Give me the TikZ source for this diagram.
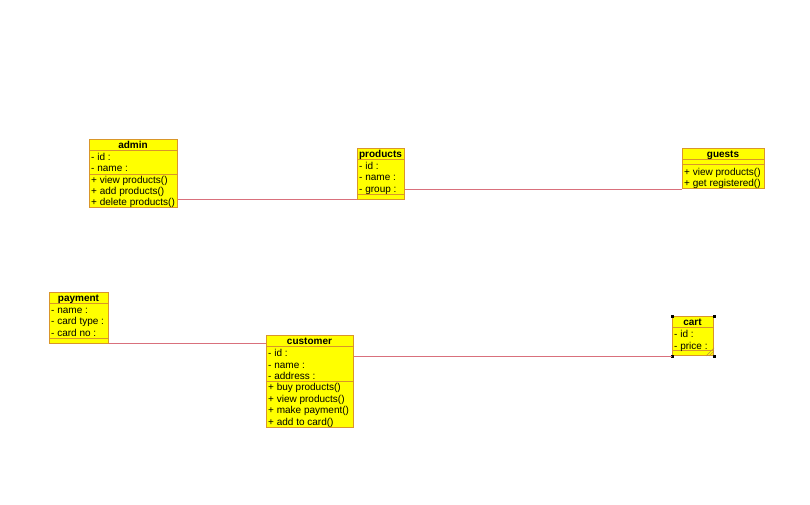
\documentclass[tikz,border=0pt]{standalone}
\usepackage{fontspec}
\setmainfont{Liberation Sans}
\begin{document}
\definecolor{classfill}{HTML}{FFFF00}
\definecolor{boxline}{HTML}{D9962A}
\definecolor{assoccol}{HTML}{D9707C}
\begin{tikzpicture}[x=1pt,y=-1pt,
  classbox/.style={draw=boxline, fill=classfill, line width=1pt, inner sep=0pt, anchor=north west},
  sepline/.style={draw=boxline, line width=1pt},
  member/.style={anchor=base west, inner sep=0pt, font=\fontsize{10}{11}\selectfont},
  ctitle/.style={anchor=base, inner sep=0pt, font=\bfseries\fontsize{10}{11}\selectfont},
  assoc/.style={draw=assoccol, line width=0.8pt},
  handle/.style={fill=black, draw=none, minimum size=3pt, inner sep=0pt}]
\useasboundingbox[fill=white] (0,0) rectangle (810,504);

% admin
\node[classbox, minimum width=88, minimum height=68] (admin) at (89,139) {};
\draw[sepline] (89,150) -- (177,150);
\draw[sepline] (89,174) -- (177,174);
\node[ctitle] (admin-t) at (133,148) {admin};
\node[member] (admin-a1) at (91,160) {- id :};
\node[member] (admin-a2) at (91,171.5) {- name :};
\node[member] (admin-o1) at (91,183) {+ view products()};
\node[member] (admin-o2) at (91,194) {+ add products()};
\node[member] (admin-o3) at (91,205) {+ delete products()};

% products
\node[classbox, minimum width=47, minimum height=51] (products) at (357,148) {};
\draw[sepline] (357,159) -- (404,159);
\draw[sepline] (357,194) -- (404,194);
\node[ctitle] (products-t) at (380.5,157) {products};
\node[member] (products-a1) at (359,169) {- id :};
\node[member] (products-a2) at (359,180.5) {- name :};
\node[member] (products-a3) at (359,192) {- group :};

% guests
\node[classbox, minimum width=82, minimum height=40] (guests) at (682,148) {};
\draw[sepline] (682,159) -- (764,159);
\draw[sepline] (682,164) -- (764,164);
\node[ctitle] (guests-t) at (723,157) {guests};
\node[member] (guests-o1) at (684,175) {+ view products()};
\node[member] (guests-o2) at (684,186.5) {+ get registered()};

% payment
\node[classbox, minimum width=59, minimum height=51] (payment) at (49,292) {};
\draw[sepline] (49,303) -- (108,303);
\draw[sepline] (49,338) -- (108,338);
\node[ctitle] (payment-t) at (78.5,301) {payment};
\node[member] (payment-a1) at (51,313) {- name :};
\node[member] (payment-a2) at (51,324.5) {- card type :};
\node[member] (payment-a3) at (51,336) {- card no :};

% customer
\node[classbox, minimum width=87, minimum height=92] (customer) at (266,335) {};
\draw[sepline] (266,346) -- (353,346);
\draw[sepline] (266,381) -- (353,381);
\node[ctitle] (customer-t) at (309.5,344) {customer};
\node[member] (customer-a1) at (268,356.5) {- id :};
\node[member] (customer-a2) at (268,368) {- name :};
\node[member] (customer-a3) at (268,379.5) {- address :};
\node[member] (customer-o1) at (268,390.5) {+ buy products()};
\node[member] (customer-o2) at (268,402) {+ view products()};
\node[member] (customer-o3) at (268,413.5) {+ make payment()};
\node[member] (customer-o4) at (268,425) {+ add to card()};

% cart (selected, with handles and resize grip)
\node[classbox, minimum width=41, minimum height=39] (cart) at (672,316) {};
\draw[sepline] (672,327) -- (713,327);
\draw[sepline] (672,350) -- (713,350);
\node[ctitle] (cart-t) at (692.5,325) {cart};
\node[member] (cart-a1) at (674,337.5) {- id :};
\node[member] (cart-a2) at (674,349) {- price :};
\foreach \c in {north west, north east, south west, south east}
  \node[handle] at (cart.\c) {};
\foreach \d in {2,5,8}
  \draw[boxline!70!gray, line width=0.5pt] ([xshift=-\d pt]cart.south east) -- ([yshift=\d pt]cart.south east);

% associations
\draw[assoc] ([yshift=9pt]admin.south east) coordinate (ap) -- (products.west |- ap);
\draw[assoc] ([yshift=11pt]products.south east) coordinate (pg) -- (guests.west |- pg);
\draw[assoc] ([yshift=1pt]payment.south east) coordinate (pc) -- (customer.west |- pc);
\draw[assoc] (cart.south west) coordinate (cc) -- (customer.east |- cc);
\end{tikzpicture}
\end{document}
